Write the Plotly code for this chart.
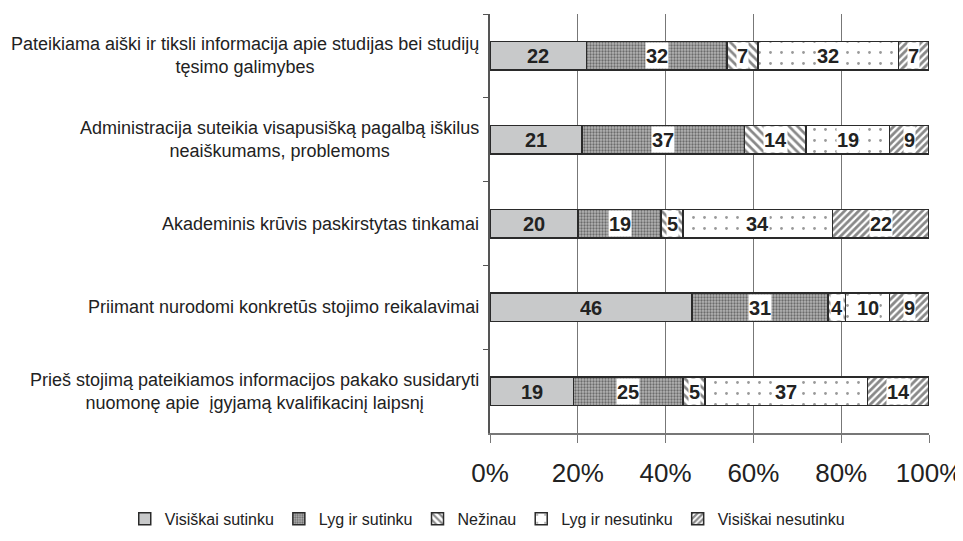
import plotly.graph_objects as go

# Kategorijos (iš viršaus į apačią)
categories = [
    "Pateikiama aiški ir tiksli informacija apie studijas bei studijų<br>tęsimo galimybes",
    "Administracija suteikia visapusišką pagalbą iškilus<br>neaiškumams, problemoms",
    "Akademinis krūvis paskirstytas tinkamai",
    "Priimant nurodomi konkretūs stojimo reikalavimai",
    "Prieš stojimą pateikiamos informacijos pakako susidaryti<br>nuomonę apie  įgyjamą kvalifikacinį laipsnį",
]

visiskai_sutinku = [22, 21, 20, 46, 19]
lyg_ir_sutinku = [32, 37, 19, 31, 25]
nezinau = [7, 14, 5, 4, 5]
lyg_ir_nesutinku = [32, 19, 34, 10, 37]
visiskai_nesutinku = [7, 9, 22, 9, 14]

x_ticks = [0, 20, 40, 60, 80, 100]
x_tick_labels = ["0%", "20%", "40%", "60%", "80%", "100%"]

series = [
    ("Visiškai sutinku", visiskai_sutinku,
     dict(color="#c8c9ca")),
    ("Lyg ir sutinku", lyg_ir_sutinku,
     dict(color="#b0b0b0", pattern=dict(shape=".", fgcolor="#222", bgcolor="#b4b4b4",
                                        size=3, solidity=0.45))),
    ("Nežinau", nezinau,
     dict(color="white", pattern=dict(shape="\\", fgcolor="#111", bgcolor="white",
                                      size=6, solidity=0.45))),
    ("Lyg ir nesutinku", lyg_ir_nesutinku,
     dict(color="white", pattern=dict(shape=".", fgcolor="#333", bgcolor="white",
                                      size=11, solidity=0.05))),
    ("Visiškai nesutinku", visiskai_nesutinku,
     dict(color="white", pattern=dict(shape="/", fgcolor="#111", bgcolor="white",
                                      size=5, solidity=0.55))),
]

fig = go.Figure()

for name, vals, marker in series:
    marker["line"] = dict(color="#2a2a2a", width=1.5)
    fig.add_trace(go.Bar(
        y=categories,
        x=vals,
        name=name,
        orientation="h",
        width=0.34,
        marker=marker,
        hoverinfo="skip",
    ))

# reikšmių etiketės
start = [0] * len(categories)
for i, (name, vals, marker) in enumerate(series):
    for j, v in enumerate(vals):
        fig.add_annotation(
            x=start[j] + v / 2, y=categories[j], xref="x", yref="y",
            text="<b>%d</b>" % v, showarrow=False,
            font=dict(family="Arial, Liberation Sans", size=20, color="#222"),
            bgcolor=None if i == 0 else "white", borderpad=0, height=25,
        )
        start[j] += v

# kategorijų pavadinimai
for c in categories:
    fig.add_annotation(
        x=0, y=c, xref="paper", yref="y", xanchor="right", xshift=-9,
        text=c, align="center", showarrow=False,
        font=dict(family="Arial, Liberation Sans", size=18, color="#222"),
    )

# puslapis turi 8px paraštę, todėl viskas pastumta
fig.update_layout(
    barmode="stack",
    width=963, height=541,
    margin=dict(l=482, r=42, t=6, b=116, autoexpand=False),
    plot_bgcolor="white",
    paper_bgcolor="white",
    font=dict(family="Arial, Liberation Sans", color="#222"),
    showlegend=True,
    legend=dict(
        orientation="h", x=-0.832, xanchor="left",
        y=-0.205, yanchor="middle",
        font=dict(size=16, color="#222"), itemwidth=30, traceorder="normal",
    ),
    bargap=0.66,
)

fig.update_xaxes(
    range=[0, 100], tickvals=x_ticks, ticktext=x_tick_labels,
    tickfont=dict(size=26, color="#222"), ticklabelstandoff=8,
    showgrid=True, gridcolor="#777", gridwidth=1,
    showline=True, linecolor="#777", linewidth=1.5,
    ticks="outside", ticklen=8, tickcolor="#777",
    zeroline=False, automargin=False,
)
fig.update_yaxes(
    autorange="reversed", showticklabels=False,
    tickson="boundaries", ticks="outside", ticklen=5, tickcolor="#555",
    showline=True, linecolor="#555", linewidth=1.5,
    showgrid=False, automargin=False,
)

fig.write_html("out.html")
